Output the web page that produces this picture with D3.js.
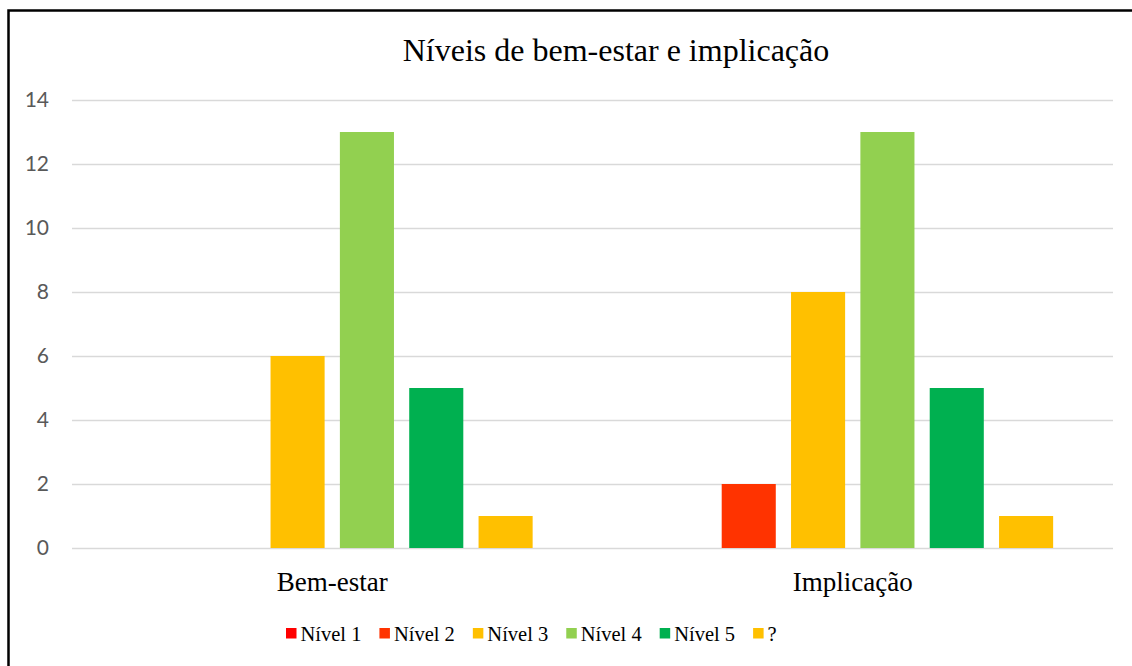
<!DOCTYPE html>
<html>
<head>
<meta charset="utf-8">
<script src="https://cdn.jsdelivr.net/npm/d3@7"></script>
<style>
  html, body { margin: 0; padding: 0; background: #fff; }
  svg { display: block; }
</style>
</head>
<body>
<div id="chart"></div>
<script>
// data
const categories = ['Bem-estar', 'Implicação'];
const seriesNames = ['Nível 1', 'Nível 2', 'Nível 3', 'Nível 4', 'Nível 5', '?'];
const seriesColors = ['#FF0000', '#FF3300', '#FFC000', '#92D050', '#00B050', '#FFC000'];
const bemEstar = [0, 0, 6, 13, 5, 1];
const implicacao = [0, 2, 8, 13, 5, 1];
const yTicks = [0, 2, 4, 6, 8, 10, 12, 14];

const values = [bemEstar, implicacao];

const W = 1132, H = 666;
const plot = { left: 72, right: 1113, top: 100, bottom: 548 };

const svg = d3.select('#chart')
  .append('svg')
  .attr('width', W)
  .attr('height', H);

// frame (runs off the right and bottom edges)
svg.append('rect')
  .attr('x', 8.5)
  .attr('y', 10.5)
  .attr('width', 1300)
  .attr('height', 800)
  .attr('fill', 'none')
  .attr('stroke', '#000')
  .attr('stroke-width', 2.5);

// title
svg.append('text')
  .attr('x', 616)
  .attr('y', 61)
  .attr('text-anchor', 'middle')
  .style('font-family', '"Liberation Serif", "Times New Roman", serif')
  .style('font-size', '32px')
  .attr('fill', '#000')
  .text('Níveis de bem-estar e implicação');

const y = d3.scaleLinear().domain([0, 14]).range([plot.bottom, plot.top]);

const x0 = d3.scaleBand()
  .domain(categories)
  .range([plot.left, plot.right])
  .paddingInner(0.23)
  .paddingOuter(0.115);

const x1 = d3.scaleBand()
  .domain(seriesNames)
  .range([0, x0.bandwidth()])
  .paddingInner(0.22);

// gridlines + y labels
const yAxis = svg.append('g')
  .attr('transform', 'translate(' + plot.left + ',0)')
  .call(d3.axisLeft(y).tickValues(yTicks).tickSize(-(plot.right - plot.left)).tickPadding(23));
yAxis.select('.domain').remove();
yAxis.selectAll('.tick line')
  .attr('stroke', '#d9d9d9')
  .attr('stroke-width', 1.5);
yAxis.selectAll('.tick text')
  .attr('fill', '#595959')
  .style('font-family', 'Lato, "Liberation Sans", sans-serif')
  .style('font-size', '21px');

// bars
const groups = svg.append('g')
  .selectAll('g')
  .data(categories)
  .enter()
  .append('g')
  .attr('transform', d => 'translate(' + x0(d) + ',0)');

groups.selectAll('rect')
  .data((c, i) => seriesNames.map((s, j) => ({ s: s, v: values[i][j], color: seriesColors[j] })))
  .enter()
  .append('rect')
  .attr('x', d => x1(d.s))
  .attr('y', d => y(d.v))
  .attr('width', x1.bandwidth())
  .attr('height', d => y(0) - y(d.v))
  .attr('fill', d => d.color);

// category labels
svg.append('g')
  .selectAll('text')
  .data(categories)
  .enter()
  .append('text')
  .attr('x', d => x0(d) + x0.bandwidth() / 2)
  .attr('y', 591)
  .attr('text-anchor', 'middle')
  .style('font-family', '"Liberation Serif", "Times New Roman", serif')
  .style('font-size', '27px')
  .attr('fill', '#000')
  .text(d => d);

// legend
const legend = svg.append('g').attr('transform', 'translate(286,0)');
let lx = 0;
seriesNames.forEach((name, i) => {
  const item = legend.append('g').attr('transform', 'translate(' + lx + ',0)');
  item.append('rect')
    .attr('x', 0)
    .attr('y', 628)
    .attr('width', 10.5)
    .attr('height', 10.5)
    .attr('fill', seriesColors[i]);
  const t = item.append('text')
    .attr('x', 14.5)
    .attr('y', 640.5)
    .style('font-family', '"Liberation Serif", "Times New Roman", serif')
    .style('font-size', '20.5px')
    .attr('fill', '#000')
    .text(name);
  lx += 14.5 + t.node().getComputedTextLength() + 18;
});
</script>
</body>
</html>
